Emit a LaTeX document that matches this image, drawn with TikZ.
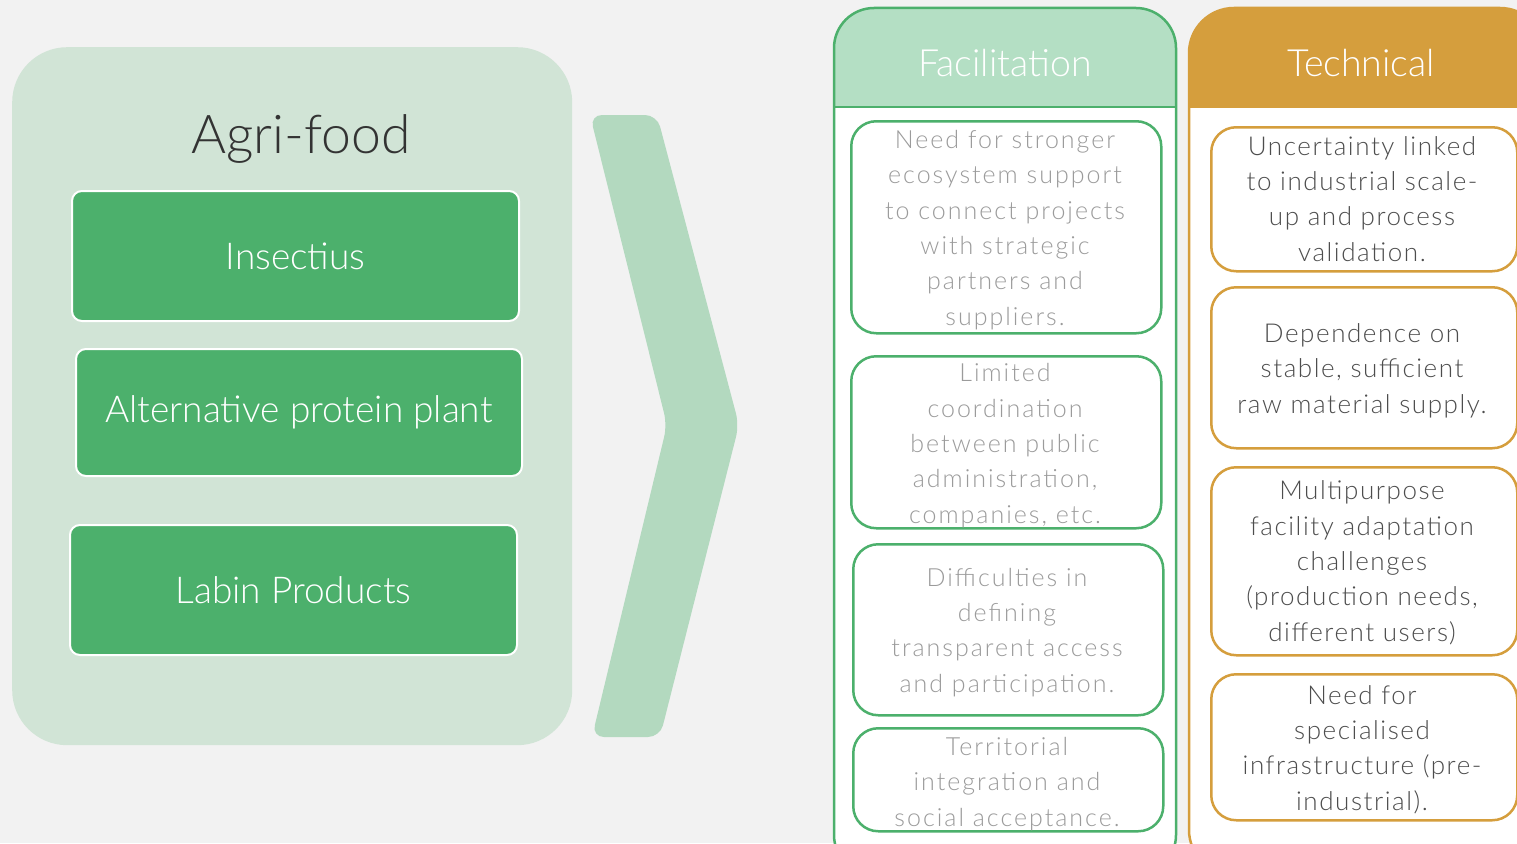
\documentclass[tikz,border=0pt]{standalone}
\usepackage{fontspec}
\setmainfont{Lato}[UprightFont=* Light]
\newfontfamily\facfont{Lato}[UprightFont=* Light, LetterSpace=8]
\newfontfamily\techfont{Lato}[UprightFont=* Light, LetterSpace=6]
\definecolor{bg}{HTML}{F2F2F2}
\definecolor{panel}{HTML}{D1E4D6}
\definecolor{boxgreen}{HTML}{4CB06C}
\definecolor{chev}{HTML}{B3D9BF}
\definecolor{facilhead}{HTML}{B4DFC4}
\definecolor{gold}{HTML}{D59E3D}
\definecolor{factext}{HTML}{9B9B9B}
\definecolor{techtext}{HTML}{4D4D4D}
\definecolor{agri}{HTML}{333333}
\begin{document}
\begin{tikzpicture}[x=1pt,y=-1pt,
  gbox/.style={draw=white, line width=2pt, fill=boxgreen, rounded corners=10pt, anchor=north west,
    text=white, font=\fontsize{37}{42}\selectfont},
  fbox/.style={draw=boxgreen, line width=2.5pt, fill=white, rounded corners=25pt, anchor=north west},
  tbox/.style={draw=gold, line width=2.5pt, fill=white, rounded corners=25pt, anchor=north west},
  ftxt/.style={anchor=base, align=center, text=factext, font=\facfont\fontsize{25}{35.3}\selectfont},
  ttxt/.style={anchor=base, align=center, text=techtext, font=\techfont\fontsize{26}{35.3}\selectfont},
  head/.style={anchor=base, text=white, font=\fontsize{37.5}{44}\selectfont}
]
\useasboundingbox (0,0) rectangle (1517,843);
\clip (0,0) rectangle (1517,843);
\fill[bg] (0,0) rectangle (1517,843);

% left panel
\node[fill=panel, rounded corners=55pt, anchor=north west, minimum width=560pt, minimum height=698pt, inner sep=0pt] (panel) at (12,47) {};
\node[anchor=base, text=agri, font=\fontsize{53.5}{60}\selectfont] (agri) at (301,153) {Agri-food};
\node[gbox, minimum width=447pt, minimum height=130pt] (b1) at (71,190) {Insectius};
\node[gbox, minimum width=446pt, minimum height=127pt] (b2) at (75,348) {Alternative protein plant};
\node[gbox, minimum width=447pt, minimum height=130pt] (b3) at (69,524) {Labin Products};

% chevron
\fill[chev, rounded corners=12pt] (590,115) -- (657,115) -- (739,425) -- (660,737) -- (592,737) -- (667,425) -- cycle;

% Facilitation column
\begin{scope}
  \clip[rounded corners=40pt] (834,8) rectangle (1176,875);
  \fill[white] (834,8) rectangle (1176,875);
  \fill[facilhead] (834,8) rectangle (1176,107);
\end{scope}
\draw[boxgreen, line width=2.5pt] (834,107) -- (1176,107);
\draw[boxgreen, line width=2.5pt, rounded corners=40pt] (834,8) rectangle (1176,875);
\node[head] (fh) at (1005,77) {Facilitation};

\node[fbox, minimum width=310pt, minimum height=212pt] (f1) at (850,120) {};
\node[ftxt] (f1t) at (1005,325) {Need for stronger\\ecosystem support\\to connect projects\\with strategic\\partners and\\suppliers.};
\node[fbox, minimum width=310pt, minimum height=172pt] (f2) at (850,355) {};
\node[ftxt] (f2t) at (1005,523) {Limited\\coordination\\between public\\administration,\\companies, etc.};
\node[fbox, minimum width=310pt, minimum height=171pt] (f3) at (852,543) {};
\node[ftxt] (f3t) at (1007,692) {Difficulties in\\defining\\transparent access\\and participation.};
\node[fbox, minimum width=310pt, minimum height=103pt] (f4) at (852,727) {};
\node[ftxt] (f4t) at (1007,826) {Territorial\\integration and\\social acceptance.};

% Technical column
\begin{scope}
  \clip[rounded corners=45pt] (1189,8) rectangle (1545,875);
  \fill[white] (1189,8) rectangle (1545,875);
  \fill[gold] (1189,8) rectangle (1545,108);
\end{scope}
\draw[gold, line width=2.5pt, rounded corners=45pt] (1189,8) rectangle (1545,875);
\node[head] (th) at (1361,77) {Technical};

\node[tbox, minimum width=306pt, minimum height=144pt] (t1) at (1210,126) {};
\node[ttxt] (t1t) at (1362,261) {Uncertainty linked\\to industrial scale-\\up and process\\validation.};
\node[tbox, minimum width=306pt, minimum height=161pt] (t2) at (1210,286) {};
\node[ttxt] (t2t) at (1362,413) {Dependence on\\stable, sufficient\\raw material supply.};
\node[tbox, minimum width=306pt, minimum height=188pt] (t3) at (1210,466) {};
\node[ttxt] (t3t) at (1362,641) {Multipurpose\\facility adaptation\\challenges\\(production needs,\\different users)};
\node[tbox, minimum width=306pt, minimum height=146pt] (t4) at (1210,673) {};
\node[ttxt] (t4t) at (1362,810) {Need for\\specialised\\infrastructure (pre-\\industrial).};
\end{tikzpicture}
\end{document}
